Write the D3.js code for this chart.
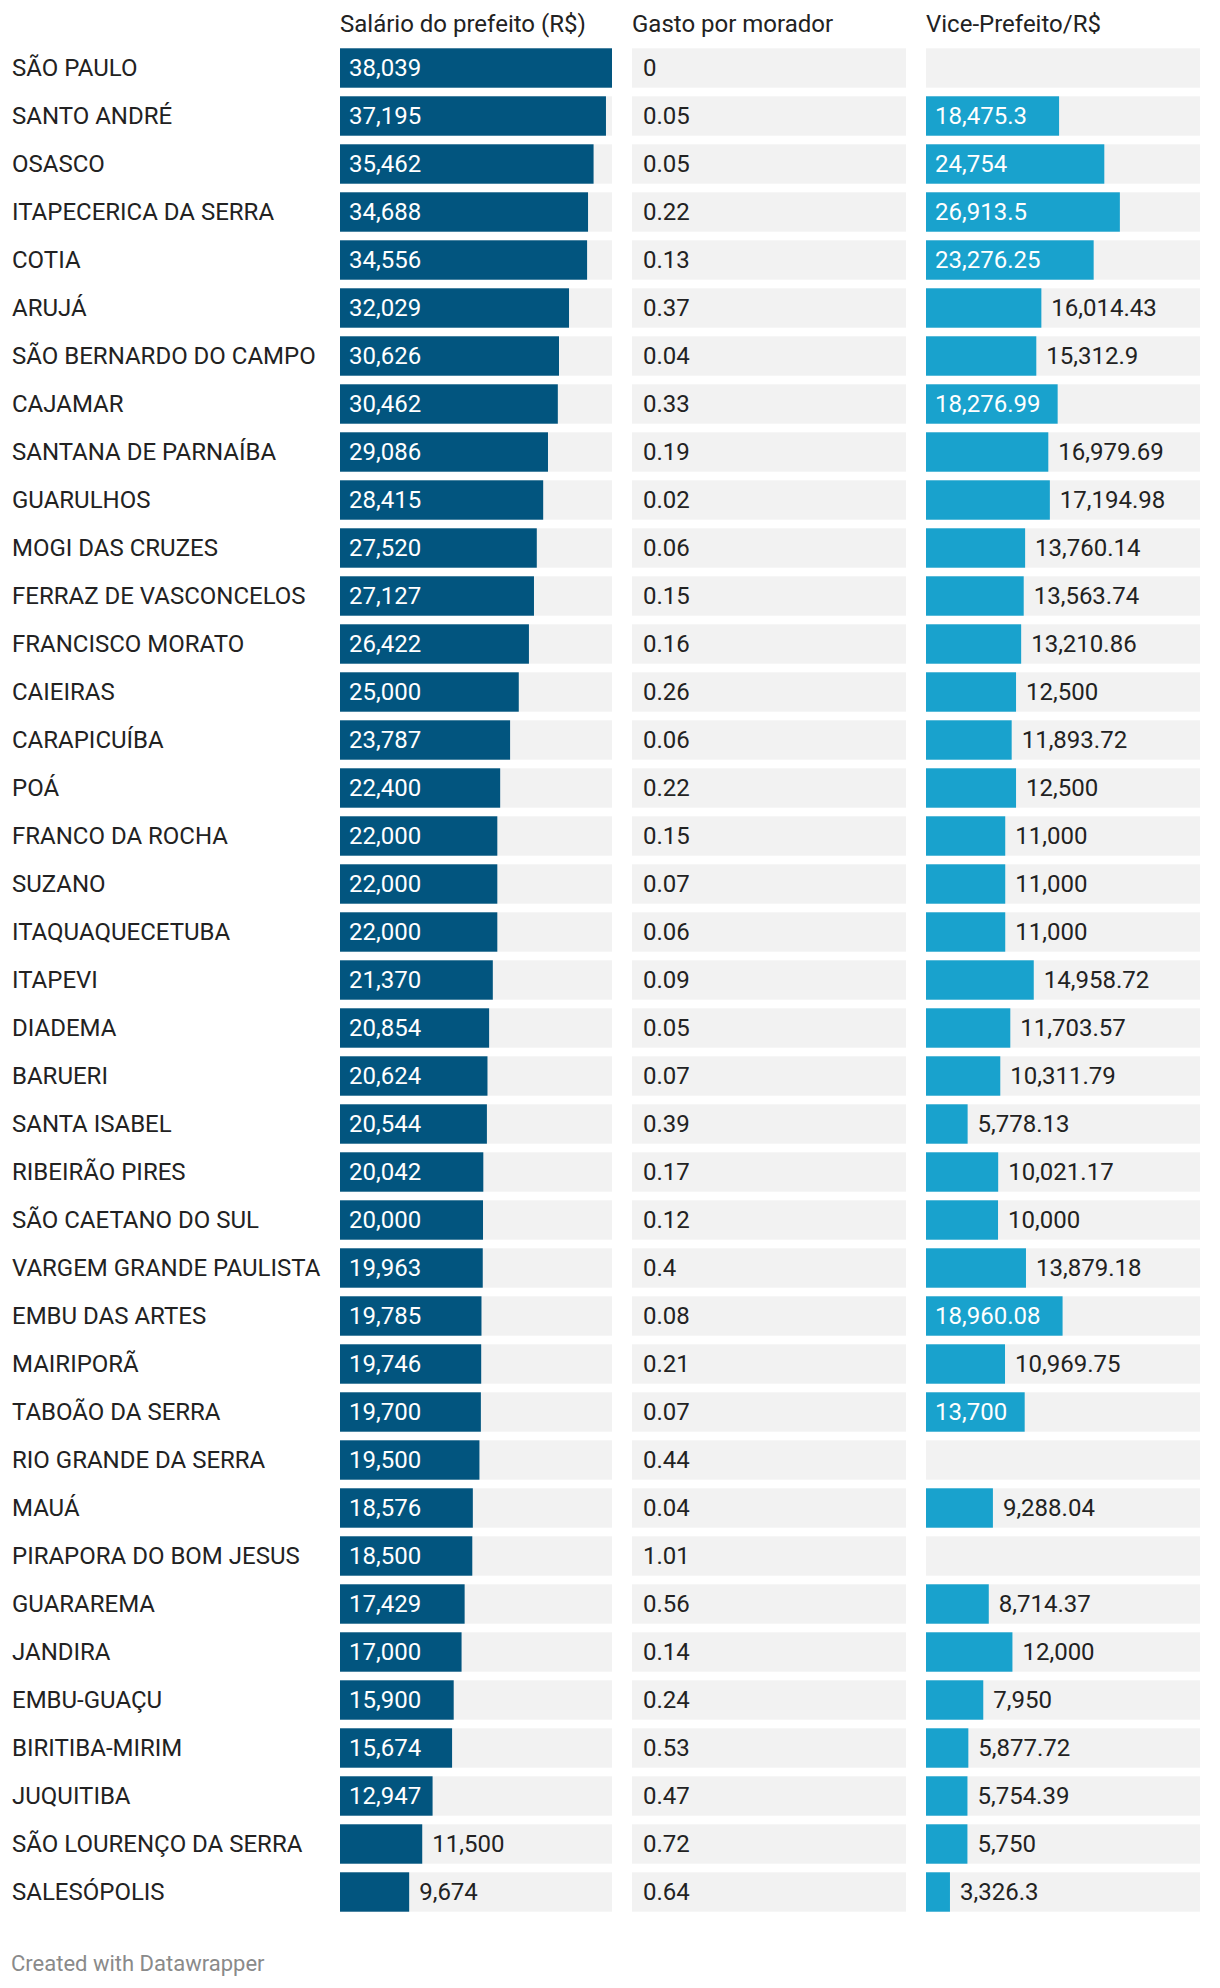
<!DOCTYPE html>
<html>
<head>
<meta charset="utf-8">
<script src="https://cdn.jsdelivr.net/npm/d3@7"></script>
<style>
  html, body { margin: 0; padding: 0; background: #fff; }
  svg { display: block; font-family: Roboto, "Noto Sans", sans-serif; }
</style>
</head>
<body>
<svg id="chart" width="1220" height="1988"></svg>
<script>
const cities = ["SÃO PAULO","SANTO ANDRÉ","OSASCO","ITAPECERICA DA SERRA","COTIA","ARUJÁ","SÃO BERNARDO DO CAMPO","CAJAMAR","SANTANA DE PARNAÍBA","GUARULHOS","MOGI DAS CRUZES","FERRAZ DE VASCONCELOS","FRANCISCO MORATO","CAIEIRAS","CARAPICUÍBA","POÁ","FRANCO DA ROCHA","SUZANO","ITAQUAQUECETUBA","ITAPEVI","DIADEMA","BARUERI","SANTA ISABEL","RIBEIRÃO PIRES","SÃO CAETANO DO SUL","VARGEM GRANDE PAULISTA","EMBU DAS ARTES","MAIRIPORÃ","TABOÃO DA SERRA","RIO GRANDE DA SERRA","MAUÁ","PIRAPORA DO BOM JESUS","GUARAREMA","JANDIRA","EMBU-GUAÇU","BIRITIBA-MIRIM","JUQUITIBA","SÃO LOURENÇO DA SERRA","SALESÓPOLIS"];
const salario = [38039,37195,35462,34688,34556,32029,30626,30462,29086,28415,27520,27127,26422,25000,23787,22400,22000,22000,22000,21370,20854,20624,20544,20042,20000,19963,19785,19746,19700,19500,18576,18500,17429,17000,15900,15674,12947,11500,9674];
const gasto = ["0","0.05","0.05","0.22","0.13","0.37","0.04","0.33","0.19","0.02","0.06","0.15","0.16","0.26","0.06","0.22","0.15","0.07","0.06","0.09","0.05","0.07","0.39","0.17","0.12","0.4","0.08","0.21","0.07","0.44","0.04","1.01","0.56","0.14","0.24","0.53","0.47","0.72","0.64"];
const vice = [null,18475.3,24754,26913.5,23276.25,16014.43,15312.9,18276.99,16979.69,17194.98,13760.14,13563.74,13210.86,12500,11893.72,12500,11000,11000,11000,14958.72,11703.57,10311.79,5778.13,10021.17,10000,13879.18,18960.08,10969.75,13700,null,9288.04,null,8714.37,12000,7950,5877.72,5754.39,5750,3326.3];
const headers = ["Salário do prefeito (R$)","Gasto por morador","Vice-Prefeito/R$"];
const footer = "Created with Datawrapper";

const svg = d3.select("#chart");
const FS = 24;
const col1 = {x: 340, w: 272}, col2 = {x: 632, w: 274}, col3 = {x: 926, w: 274};
const y = d3.scaleBand().domain(cities).range([48.3, 1911.7]).paddingInner(0.179).paddingOuter(0);
const maxV = d3.max(salario);
const xSal = d3.scaleLinear().domain([0, maxV]).range([0, col1.w]);
const xVice = d3.scaleLinear().domain([0, maxV]).range([0, col3.w]);
const fmt = d3.format(",");
const dark = "#02557f", light = "#19a2cd", bg = "#f2f2f2", txt = "#222";

// headers
svg.selectAll("text.h").data(headers).join("text")
  .attr("x", (d,i) => [col1.x, col2.x, col3.x][i])
  .attr("y", 32)
  .attr("font-size", FS).attr("fill", txt).text(d => d);

const rows = svg.selectAll("g.row").data(cities.map((c,i)=>({c, s: salario[i], g: gasto[i], v: vice[i]})))
  .join("g").attr("transform", d => `translate(0,${y(d.c)})`);
const bh = y.bandwidth(), cy = bh/2;

rows.append("text").attr("x", 12).attr("y", cy + 7.8).attr("font-size", FS).attr("fill", txt).text(d => d.c);

[col1, col2, col3].forEach(c => {
  rows.append("rect").attr("x", c.x).attr("width", c.w).attr("height", bh).attr("fill", bg);
});

function barCol(sel, col, scale, key, color) {
  sel.each(function(d) {
    const v = d[key];
    if (v == null) return;
    const g = d3.select(this);
    const w = scale(v);
    g.append("rect").attr("x", col.x).attr("width", w).attr("height", bh).attr("fill", color);
    const t = g.append("text").attr("y", cy + 7.8).attr("font-size", FS).text(fmt(v));
    const tw = t.node().getComputedTextLength();
    if (w >= tw + 19.5) t.attr("x", col.x + 9).attr("fill", "#fff");
    else t.attr("x", col.x + w + 10).attr("fill", txt);
  });
}
barCol(rows, col1, xSal, "s", dark);
rows.append("text").attr("x", col2.x + 11).attr("y", cy + 7.8).attr("font-size", FS).attr("fill", txt).text(d => d.g);
barCol(rows, col3, xVice, "v", light);

svg.append("text").attr("x", 11).attr("y", 1971).attr("font-size", 22).attr("fill", "#8a8a8a").text(footer);
</script>
</body>
</html>
